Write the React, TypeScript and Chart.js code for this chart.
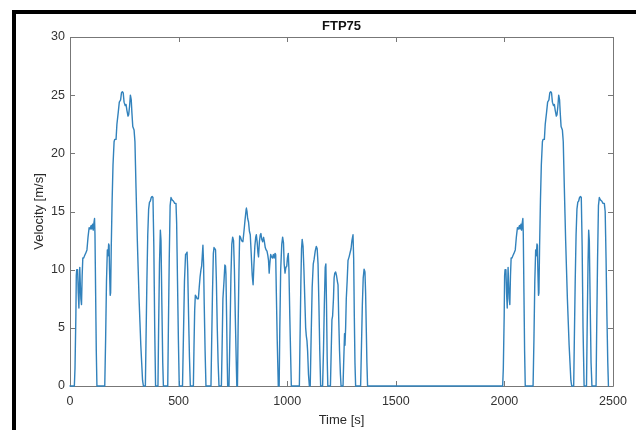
import { useEffect, useRef } from "react";
import { Chart, registerables } from "chart.js";

Chart.register(...registerables);

// FTP75 velocity trace, [time s, velocity m/s]
const coldStart: [number, number][] = [
  [0, 0], [20, 0], [23, 1.5], [27, 6], [29, 9.5], [31, 10], [35, 10], [38, 8], [41, 6.7], [43, 8.5],
  [45, 10.2], [47, 9], [50, 7.5], [53, 7], [56, 9.5], [59, 11], [63, 11], [67, 11.2], [72, 11.4],
  [78, 11.7], [83, 12.8], [88, 13.6], [93, 13.5], [97, 13.8], [100, 13.5], [104, 13.9], [107, 13.4],
  [110, 14], [113, 14.4], [115, 13], [118, 8], [121, 3], [124, 0], [160, 0], [164, 4], [168, 9],
  [172, 11.7], [175, 11.2], [178, 12.2], [180, 12.1], [182, 10], [185, 7.8], [187, 8], [190, 12],
  [194, 16], [198, 19], [203, 21], [206, 21.2], [212, 21.2], [216, 22.5], [222, 23.5], [227, 24.4],
  [233, 24.6], [237, 25.2], [241, 25.3], [245, 25.2], [249, 24.4], [254, 24.1], [258, 24.2],
  [262, 23.7], [267, 23.2], [270, 23.3], [274, 24], [278, 25], [282, 24.6], [285, 23.5], [289, 22.3],
  [295, 22], [299, 21], [304, 17], [310, 12.5], [318, 7.5], [326, 3.5], [334, 0.5], [338, 0],
  [347, 0], [350, 4], [354, 9], [358, 13], [362, 15.2], [366, 15.8], [370, 15.9], [374, 16.2],
  [378, 16.3], [382, 16.2], [386, 12], [390, 5], [394, 0], [405, 0], [408, 5], [412, 10.5],
  [416, 13.4], [419, 12.5], [423, 7], [427, 2], [430, 0], [450, 0], [453, 5], [457, 11], [461, 15.5],
  [465, 16.2], [470, 16.0], [476, 15.9], [482, 15.7], [488, 15.7], [491, 14], [495, 9], [499, 4],
  [503, 0], [505, 0],
];

const stabilized: [number, number][] = [
  [518, 0], [522, 4], [527, 9], [532, 11.3], [536, 11.4], [539, 11.5], [542, 10], [546, 6], [550, 2.5],
  [554, 0], [568, 0], [571, 3.5], [574, 6.5], [577, 7.8], [581, 7.7], [585, 7.5], [591, 7.5],
  [595, 8.5], [599, 9.4], [603, 10], [606, 10.3], [609, 11.2], [612, 12.1], [615, 10.5], [618, 7],
  [622, 3], [626, 0], [649, 0], [652, 3.5], [656, 8], [660, 11.4], [663, 11.9], [667, 11.8],
  [670, 11.7], [674, 9], [678, 5], [682, 2], [686, 0], [697, 0], [700, 3], [704, 7.5], [709, 9],
  [713, 10.4], [716, 10.3], [718, 9.6], [721, 6], [724, 2], [726, 0], [732, 0], [737, 5], [741, 9.5],
  [745, 12.2], [749, 12.8], [753, 12.5], [757, 10], [761, 6], [765, 2.5], [768, 0], [771, 0],
  [774, 5], [778, 10], [781, 12.9], [785, 12.8], [790, 12.5], [796, 12.4], [801, 13.3], [806, 14.3],
  [810, 15.0], [812, 15.3], [815, 15.0], [818, 14.4], [822, 14.1], [826, 13.3], [830, 13],
  [834, 11.5], [839, 9.5], [843, 8.7], [847, 10.5], [851, 12], [855, 12.8], [858, 13], [862, 12.3],
  [865, 11.5], [868, 11.1], [872, 12.4], [876, 13], [879, 13.1], [883, 12.6], [887, 12.4],
  [891, 12.8], [895, 12.4], [899, 11.9], [903, 11.7], [907, 11.6], [911, 11.2], [914, 10.8],
  [917, 9.7], [920, 10.5], [924, 11.3], [928, 11.1], [932, 11], [936, 11.3], [940, 11], [944, 11.4],
  [947, 11.3], [950, 8], [954, 4], [959, 0], [963, 0], [966, 5], [970, 10], [975, 12.2], [979, 12.8],
  [983, 12.3], [986, 10.5], [990, 9.7], [994, 10.2], [998, 10.3], [1001, 11], [1005, 11.4],
  [1008, 10], [1012, 6], [1016, 2.5], [1019, 0], [1056, 0], [1059, 4], [1063, 9], [1066, 11.8],
  [1069, 12.6], [1073, 12], [1077, 10], [1081, 7.5], [1085, 5], [1088, 4.3], [1091, 3.9], [1094, 3],
  [1098, 1], [1102, 0], [1106, 0], [1110, 4], [1115, 8.5], [1120, 10.5], [1124, 10.9], [1129, 11.6],
  [1134, 12.0], [1138, 11.8], [1142, 10.5], [1146, 7], [1150, 3], [1154, 0], [1163, 0], [1167, 3],
  [1171, 7], [1175, 10.2], [1178, 10.5], [1181, 7], [1184, 2.5], [1187, 0], [1199, 0], [1202, 2.5],
  [1206, 5.7], [1209, 6], [1213, 7.5], [1216, 9.3], [1219, 9.7], [1223, 9.8], [1227, 9.5], [1231, 9],
  [1234, 8.7], [1237, 6], [1241, 3], [1245, 1], [1248, 0], [1257, 0], [1260, 2], [1264, 4.5],
  [1266, 3.5], [1269, 5], [1272, 7.5], [1276, 9], [1280, 10.8], [1285, 11.1], [1290, 11.5],
  [1294, 11.8], [1298, 12.5], [1303, 13], [1306, 11], [1309, 6], [1312, 2], [1315, 0], [1338, 0],
  [1342, 3.5], [1346, 7], [1350, 9.3], [1354, 10.05], [1358, 9.8], [1361, 8], [1364, 5], [1367, 2],
  [1370, 0],
];

const soak: [number, number][] = [
  [1370, 0], [1972, 0],
];

const hotStart: [number, number][] = [
  [1972, 0], [1992, 0], [1995, 1.5], [1999, 6], [2001, 9.5], [2003, 10], [2007, 10], [2010, 8],
  [2013, 6.7], [2015, 8.5], [2017, 10.2], [2019, 9], [2022, 7.5], [2025, 7], [2028, 9.5], [2031, 11],
  [2035, 11], [2039, 11.2], [2044, 11.4], [2050, 11.7], [2055, 12.8], [2060, 13.6], [2065, 13.5],
  [2069, 13.8], [2072, 13.5], [2076, 13.9], [2079, 13.4], [2082, 14], [2085, 14.4], [2087, 13],
  [2090, 8], [2093, 3], [2096, 0], [2132, 0], [2136, 4], [2140, 9], [2144, 11.7], [2147, 11.2],
  [2150, 12.2], [2152, 12.1], [2154, 10], [2157, 7.8], [2159, 8], [2162, 12], [2166, 16], [2170, 19],
  [2175, 21], [2178, 21.2], [2184, 21.2], [2188, 22.5], [2194, 23.5], [2199, 24.4], [2205, 24.6],
  [2209, 25.2], [2213, 25.3], [2217, 25.2], [2221, 24.4], [2226, 24.1], [2230, 24.2], [2234, 23.7],
  [2239, 23.2], [2242, 23.3], [2246, 24], [2250, 25], [2254, 24.6], [2257, 23.5], [2261, 22.3],
  [2267, 22], [2271, 21], [2276, 17], [2282, 12.5], [2290, 7.5], [2298, 3.5], [2306, 0.5], [2310, 0],
  [2319, 0], [2322, 4], [2326, 9], [2330, 13], [2334, 15.2], [2338, 15.8], [2342, 15.9], [2346, 16.2],
  [2350, 16.3], [2354, 16.2], [2358, 12], [2362, 5], [2367, 0], [2378, 0], [2381, 5], [2385, 10.5],
  [2388, 13.4], [2391, 12.5], [2395, 7], [2399, 2], [2403, 0], [2422, 0], [2425, 5], [2429, 11],
  [2433, 15.5], [2437, 16.2], [2442, 16.0], [2448, 15.9], [2454, 15.7], [2460, 15.7], [2464, 15],
  [2468, 11], [2472, 6], [2476, 2], [2479, 0],
];

const xTicks = [0, 500, 1000, 1500, 2000, 2500];
const yTicks = [0, 5, 10, 15, 20, 25, 30];
const titleText = "FTP75";
const xLabel = "Time [s]";
const yLabel = "Velocity [m/s]";

const FONT = '"Liberation Sans", Arial, sans-serif';

export default function App() {
  const ref = useRef<HTMLCanvasElement>(null);

  useEffect(() => {
    if (!ref.current) return;
    const points = [...coldStart, ...stabilized, ...soak, ...hotStart].map(([x, y]) => ({ x, y }));

    const framePlugin = {
      id: "matlabFrame",
      beforeDatasetsDraw(chart: any) {
        const { ctx, chartArea } = chart;
        const { left, right, top, bottom } = chartArea;
        const xs = chart.scales.x;
        const ys = chart.scales.y;
        ctx.save();
        ctx.strokeStyle = "#777";
        ctx.lineWidth = 1;
        ctx.beginPath();
        ctx.rect(Math.round(left) + 0.5, Math.round(top) + 0.5, Math.round(right - left), Math.round(bottom - top));
        const tl = 5;
        for (const v of xTicks) {
          const px = Math.round(xs.getPixelForValue(v)) + 0.5;
          ctx.moveTo(px, bottom);
          ctx.lineTo(px, bottom - tl);
          ctx.moveTo(px, top);
          ctx.lineTo(px, top + tl);
        }
        for (const v of yTicks) {
          const py = Math.round(ys.getPixelForValue(v)) + 0.5;
          ctx.moveTo(left, py);
          ctx.lineTo(left + tl, py);
          ctx.moveTo(right, py);
          ctx.lineTo(right - tl, py);
        }
        ctx.stroke();
        ctx.restore();
      },
      afterDraw(chart: any) {
        const { ctx, chartArea } = chart;
        const cx = (chartArea.left + chartArea.right) / 2;
        const cy = (chartArea.top + chartArea.bottom) / 2;
        ctx.save();
        ctx.fillStyle = "#111";
        ctx.font = `bold 13px ${FONT}`;
        ctx.textAlign = "center";
        ctx.textBaseline = "middle";
        ctx.fillText(titleText, cx, 26);
        ctx.fillStyle = "#2a2a2a";
        ctx.font = `13px ${FONT}`;
        ctx.fillText(xLabel, cx, 420);
        ctx.translate(39, cy);
        ctx.rotate(-Math.PI / 2);
        ctx.fillText(yLabel, 0, 0);
        ctx.restore();
        // black frame of the screenshot (top and left edges)
        ctx.save();
        ctx.fillStyle = "#000";
        ctx.fillRect(12, 10, 4, 420);
        ctx.fillRect(12, 10, 624, 4);
        ctx.restore();
      },
    };

    const chart = new Chart(ref.current, {
      type: "line",
      data: {
        datasets: [
          {
            data: points,
            borderColor: "#3282bc",
            borderWidth: 1.4,
            borderJoinStyle: "round",
            borderCapStyle: "round",
            pointRadius: 0,
            tension: 0.0001,
            fill: false,
            clip: 2,
          },
        ],
      },
      options: {
        animation: false,
        responsive: false,
        devicePixelRatio: 1,
        layout: { padding: { top: 37, right: 23, left: 0, bottom: 0 } },
        plugins: {
          legend: { display: false },
          tooltip: { enabled: false },
          title: { display: false },
        },
        scales: {
          x: {
            type: "linear",
            min: 0,
            max: 2500,
            afterBuildTicks: (s: any) => {
              s.ticks = xTicks.map((value) => ({ value }));
            },
            afterFit: (s: any) => {
              s.height = 44;
            },
            grid: { display: false, drawTicks: false },
            border: { display: false },
            ticks: {
              padding: 8,
              maxRotation: 0,
              color: "#333",
              font: { family: FONT, size: 12.5 },
              callback: (v: any) => String(v),
            },
          },
          y: {
            type: "linear",
            min: 0,
            max: 30,
            afterBuildTicks: (s: any) => {
              s.ticks = yTicks.map((value) => ({ value }));
            },
            afterFit: (s: any) => {
              s.width = 70;
            },
            grid: { display: false, drawTicks: false },
            border: { display: false },
            ticks: {
              padding: 5,
              color: "#333",
              font: { family: FONT, size: 12.5 },
              callback: (v: any) => String(v),
            },
          },
        },
      },
      plugins: [framePlugin],
    } as any);

    return () => chart.destroy();
  }, []);

  return (
    <div style={{ position: "fixed", left: 0, top: 0, width: 636, height: 430, background: "#fff" }}>
      <canvas ref={ref} width={636} height={430} style={{ display: "block", width: 636, height: 430 }} />
    </div>
  );
}
